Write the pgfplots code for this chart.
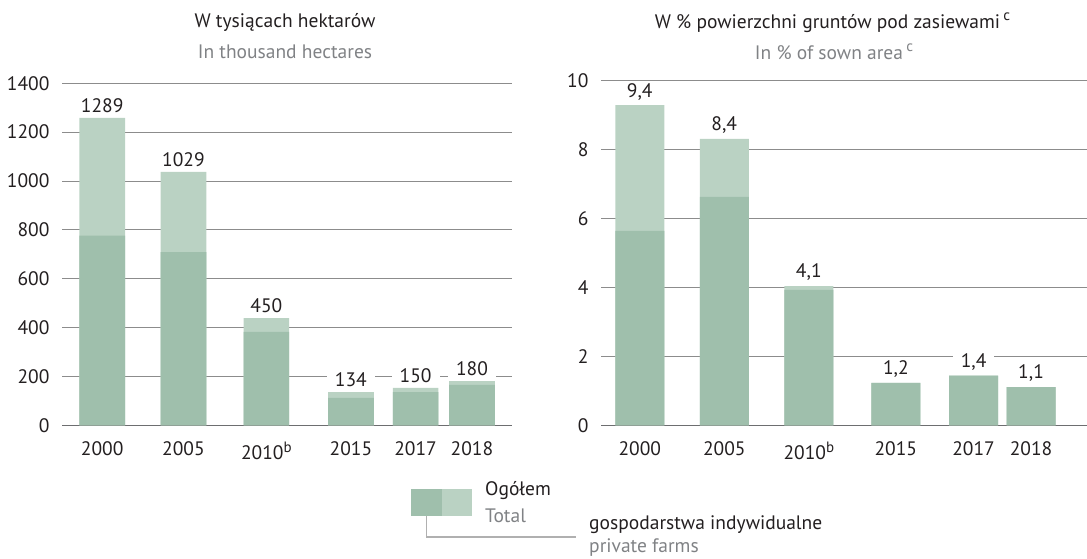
\documentclass[border=0pt]{standalone}
\usepackage{pgfplots}
\pgfplotsset{compat=1.18}
\usepackage{pgfplotstable}
\usepackage{fontspec}
\setmainfont{PT Sans}

\definecolor{priv}{HTML}{9FBFAC}
\definecolor{tot}{HTML}{BAD2C3}
\definecolor{txt}{HTML}{231F20}
\definecolor{sub}{HTML}{808285}
\definecolor{gridc}{HTML}{8C8C8C}
\definecolor{axisc}{HTML}{6D6E70}
\definecolor{legline}{HTML}{B0B0B0}

% thousand ha; lab = printed value
\pgfplotstableread{
x     total private lab
0     1258  776     1289
0.98  1037  709     1029
1.98  439   382     450
3     136   112     134
3.78  153   136     150
4.46  181   165     180
}\hectares

% % of sown area
\pgfplotstableread{
x     total private lab
0     9.29  5.64    9,4
1     8.31  6.63    8,4
2     4.04  3.93    4,1
3.03  1.23  1.23    1,2
3.95  1.44  1.44    1,4
4.63  1.11  1.11    1,1
}\share

\newcommand{\fs}{\fontsize{19.5}{22}\selectfont}
\newcommand{\sups}[1]{\raisebox{0.75ex}{\fontsize{15}{15}\selectfont #1}}

\pgfplotsset{
  panel/.style={
    scale only axis, anchor=south west, clip=false,
    ymin=0,
    axis x line*=bottom, axis y line*=left,
    y axis line style={draw=none},
    x axis line style={draw=axisc, line width=1.2pt, -},
    major tick length=0pt,
    ymajorgrids, grid style={draw=gridc, line width=0.9pt},
    tick label style={font=\fs, text=txt},
    yticklabel style={xshift=-9pt},
    xticklabel style={yshift=-13pt},
    /pgf/number format/assume math mode=true,
    /pgf/number format/1000 sep={},
    xticklabels={2000,2005,2010\sups{b},2015,2017,2018},
    nodes near coords style={font=\fs, text=txt, fill=white, inner xsep=8pt, inner ysep=2pt, anchor=south, yshift=3pt},
  },
}

\begin{document}
\begin{tikzpicture}[x=1pt,y=1pt]
\path[use as bounding box] (0,0) rectangle (1087,558);

% left panel
\begin{axis}[panel, at={(62pt,132.7pt)}, width=450pt, height=342pt,
  xmin=-0.485, xmax=4.943, ymax=1400, ytick={0,200,...,1400},
  xtick={0,0.98,1.98,3,3.78,4.46}, bar width=0.551]
\addplot[ybar, bar shift=0pt, fill=tot, draw=none, nodes near coords,
  point meta=explicit symbolic] table[x=x, y=total, meta=lab] {\hectares};
\addplot[ybar, bar shift=0pt, fill=priv, draw=none] table[x=x, y=private] {\hectares};
\end{axis}

% right panel
\begin{axis}[panel, at={(601pt,132.7pt)}, width=486pt, height=344.6pt,
  xmin=-0.459, xmax=5.292, ymax=10, ytick={0,2,...,10},
  xtick={0,1,2,3.03,3.95,4.63}, bar width=0.58]
\addplot[ybar, bar shift=0pt, fill=tot, draw=none, nodes near coords,
  point meta=explicit symbolic] table[x=x, y=total, meta=lab] {\share};
\addplot[ybar, bar shift=0pt, fill=priv, draw=none] table[x=x, y=private] {\share};
\end{axis}

% titles
\node[font=\fs, text=txt] at (285,535.3) {W tysiącach hektarów};
\node[font=\fs, text=sub] at (285,506.3) {In thousand hectares};
\node[font=\fs, text=txt] at (832.5,535.3) {W \% powierzchni gruntów pod zasiewami\,\sups{c}};
\node[font=\fs, text=sub] at (834,506.3) {In \% of sown area\,\sups{c}};

% legend
\fill[priv] (411,42) rectangle (442,69);
\fill[tot] (442,42) rectangle (472,69);
\draw[legline, line width=1.5pt] (426.7,42) -- (426.7,21) -- (575.7,21);
\node[font=\fs, text=txt, anchor=west, inner sep=0pt] at (485,67.3) {Ogółem};
\node[font=\fs, text=sub, anchor=west, inner sep=0pt] at (485,42) {Total};
\node[font=\fs, text=txt, anchor=west, inner sep=0pt] at (589,33) {gospodarstwa indywidualne};
\node[font=\fs, text=sub, anchor=west, inner sep=0pt] at (589,10) {private farms};
\end{tikzpicture}
\end{document}
